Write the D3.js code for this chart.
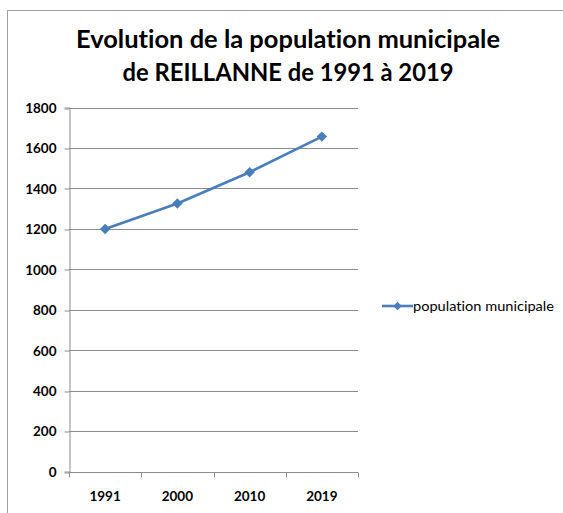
<!DOCTYPE html>
<html>
<head>
<meta charset="utf-8">
<script src="https://cdn.jsdelivr.net/npm/d3@7"></script>
<style>
  html, body { margin: 0; padding: 0; background: #fff; }
  svg { display: block; }
  text { font-family: Lato, "Open Sans", sans-serif; fill: #000; font-variant-ligatures: none; font-feature-settings: "liga" 0; }
</style>
</head>
<body>
<svg id="chart" width="563" height="513"></svg>
<script>
// Population municipale de Reillanne
const years = ["1991", "2000", "2010", "2019"];
const population = [1199, 1325, 1480, 1656];
const yTicks = [0, 200, 400, 600, 800, 1000, 1200, 1400, 1600, 1800];
const seriesName = "population municipale";
const titleLines = ["Evolution de la population municipale", "de REILLANNE de 1991 à 2019"];

const svg = d3.select("#chart");
const W = 563, H = 513;
const plot = { left: 69, right: 358, top: 107.5, bottom: 471.5 };
const blue = "#4A7EBB";
const gridColor = "#8C8C8C";

// Chart frame
svg.append("rect")
  .attr("x", 7.5).attr("y", 10.5)
  .attr("width", W).attr("height", H)
  .attr("fill", "#fff").attr("stroke", "#A0A0A0").attr("stroke-width", 1);

// Title, two centred lines
const titleWidths = [424, 331];
svg.append("g").selectAll("text").data(titleLines).join("text")
  .attr("x", 288).attr("y", (d, i) => 48 + i * 33)
  .attr("text-anchor", "middle")
  .attr("font-size", 24).attr("font-weight", 700)
  .attr("textLength", (d, i) => titleWidths[i])
  .attr("lengthAdjust", "spacingAndGlyphs")
  .text(d => d);

const x = d3.scaleBand().domain(years).range([plot.left, plot.right]);
const y = d3.scaleLinear().domain([0, 1800]).range([plot.bottom, plot.top]);

// Horizontal gridlines
svg.append("g").selectAll("line").data(yTicks.filter(t => t > 0)).join("line")
  .attr("x1", plot.left).attr("x2", plot.right)
  .attr("y1", d => Math.round(y(d)) + 0.5).attr("y2", d => Math.round(y(d)) + 0.5)
  .attr("stroke", gridColor).attr("stroke-width", 1);

// Y axis
const yAxis = svg.append("g")
  .attr("transform", `translate(${plot.left + 0.5},0)`)
  .call(d3.axisLeft(y).tickValues(yTicks).tickSize(5).tickPadding(8).tickFormat(d3.format("d")));
yAxis.select(".domain").attr("stroke", gridColor);
yAxis.selectAll(".tick line").attr("stroke", gridColor)
  .attr("transform", d => `translate(0,${Math.round(y(d)) + 0.5 - y(d)})`);
yAxis.selectAll(".tick text")
  .attr("font-size", 13.5).attr("font-weight", 700)
  .attr("font-family", "Lato, sans-serif").attr("fill", "#000")
  .attr("dy", "0.36em");

// X axis with ticks on category boundaries
const xAxisG = svg.append("g").attr("transform", `translate(0,${Math.round(plot.bottom) + 0.5})`);
xAxisG.append("line")
  .attr("x1", plot.left).attr("x2", plot.right)
  .attr("stroke", gridColor);
const boundaries = years.map(d => x(d)).concat([x(years[years.length - 1]) + x.bandwidth()]);
xAxisG.selectAll("line.tk").data(boundaries).join("line").attr("class", "tk")
  .attr("x1", d => Math.round(d) + 0.5).attr("x2", d => Math.round(d) + 0.5)
  .attr("y1", 0).attr("y2", 5)
  .attr("stroke", gridColor);
xAxisG.selectAll("text").data(years).join("text")
  .attr("x", d => x(d) + x.bandwidth() / 2)
  .attr("y", 28)
  .attr("text-anchor", "middle")
  .attr("font-size", 13.5).attr("font-weight", 700)
  .text(d => d);

// Series line and markers
const pts = years.map((yr, i) => [x(yr) + x.bandwidth() / 2, y(population[i])]);
svg.append("path")
  .attr("d", d3.line()(pts))
  .attr("fill", "none").attr("stroke", blue).attr("stroke-width", 2.6)
  .attr("stroke-linejoin", "round");

const diamond = d3.symbol().type(d3.symbolDiamond2).size(70);
svg.append("g").selectAll("path").data(pts).join("path")
  .attr("transform", d => `translate(${d[0]},${d[1]})`)
  .attr("d", diamond)
  .attr("fill", blue);

// Legend
const lg = svg.append("g").attr("transform", "translate(382,306)");
lg.append("line").attr("x1", 0).attr("x2", 31).attr("stroke", blue).attr("stroke-width", 2.6);
lg.append("path").attr("transform", "translate(15.5,0)")
  .attr("d", d3.symbol().type(d3.symbolDiamond2).size(45)).attr("fill", blue);
lg.append("text").attr("x", 31).attr("y", 4.5)
  .attr("font-size", 13).attr("font-weight", 400)
  .attr("textLength", 141).attr("lengthAdjust", "spacingAndGlyphs")
  .text(seriesName);
</script>
</body>
</html>
